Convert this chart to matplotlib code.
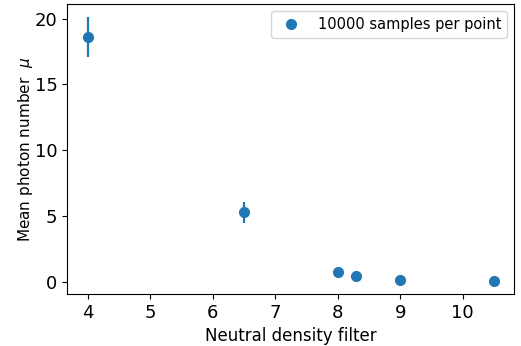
import matplotlib
matplotlib.use("Agg")
import matplotlib.pyplot as plt

# neutral density filter vs mean photon number
nd_filter = [4.0, 6.5, 8.0, 8.3, 9.0, 10.5]
mu = [18.6, 5.27, 0.76, 0.42, 0.16, 0.08]
mu_err = [1.5, 0.78, 0.08, 0.05, 0.03, 0.02]

fig = plt.figure(figsize=(5.21, 3.46), dpi=100)
ax = fig.add_axes([0.129, 0.150, 0.858, 0.838])

# error bars without markers, dots on top carry the legend entry
ax.errorbar(nd_filter, mu, yerr=mu_err, fmt="none", ecolor="#1f77b4",
            elinewidth=1.6, capsize=0)
ax.plot(nd_filter, mu, "o", color="#1f77b4", ms=7,
        label="10000 samples per point")

ax.set_xlabel("Neutral density filter", fontsize=12)
ax.set_ylabel("Mean photon number  $\\mu$", fontsize=11, labelpad=0)
ax.tick_params(labelsize=13)
ax.set_yticks([0, 5, 10, 15, 20])
ax.legend(loc="upper right", fontsize=10.5)

fig.savefig("out.png", dpi=100)
